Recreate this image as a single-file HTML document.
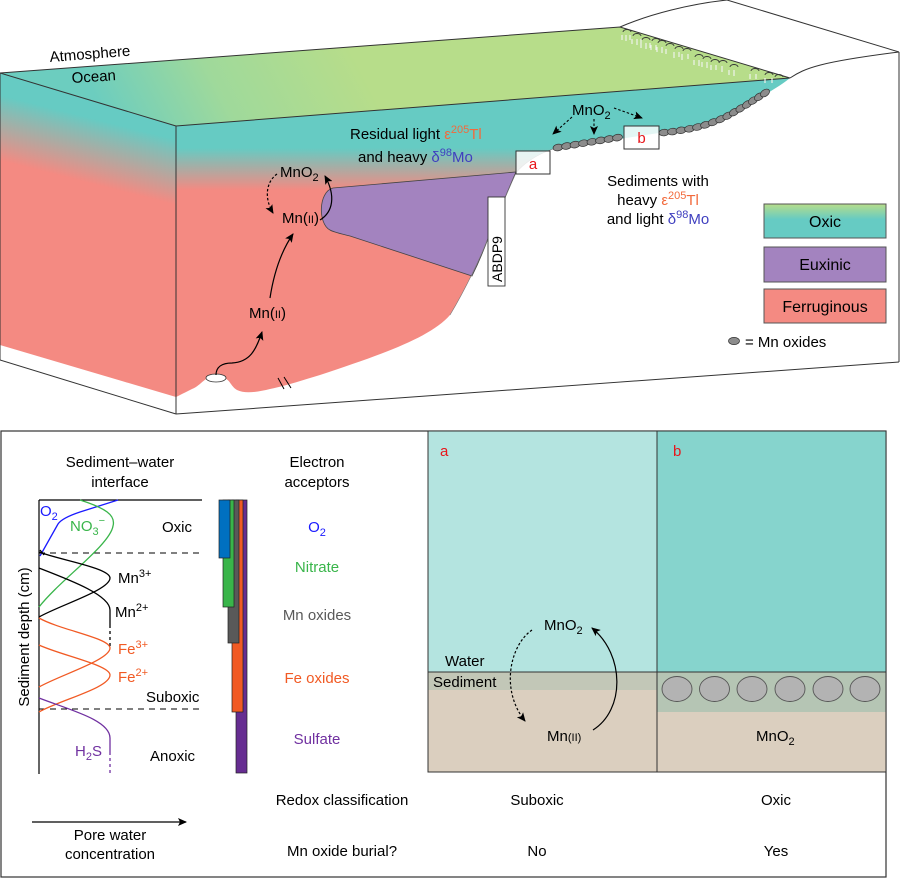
<!DOCTYPE html>
<html><head><meta charset="utf-8"><style>
html,body{margin:0;padding:0;background:#fff;}
svg{display:block;font-family:"Liberation Sans",Arial,sans-serif;}
</style></head><body>
<svg width="900" height="878" viewBox="0 0 900 878" xmlns="http://www.w3.org/2000/svg">
<defs>
<linearGradient id="gTop" gradientUnits="userSpaceOnUse" x1="110" y1="125" x2="330" y2="10">
<stop offset="0" stop-color="#6ccdbf"/><stop offset="0.45" stop-color="#9fd99b"/><stop offset="1" stop-color="#b7dd8a"/></linearGradient>
<linearGradient id="gLeft" gradientUnits="userSpaceOnUse" x1="20" y1="90" x2="0" y2="169">
<stop offset="0" stop-color="#66cbc3"/><stop offset="0.12" stop-color="#66cbc3"/><stop offset="0.9" stop-color="#f48a82"/><stop offset="1" stop-color="#f48a82"/></linearGradient>
<linearGradient id="gFront" gradientUnits="userSpaceOnUse" x1="0" y1="148" x2="0" y2="190">
<stop offset="0" stop-color="#66cbc3"/><stop offset="1" stop-color="#f48a82"/></linearGradient>
<linearGradient id="gLeg" x1="0" y1="0" x2="0" y2="1">
<stop offset="0" stop-color="#b7dd8a"/><stop offset="0.45" stop-color="#66cbc3"/><stop offset="1" stop-color="#66cbc3"/></linearGradient>
<marker id="ah" markerUnits="userSpaceOnUse" markerWidth="10" markerHeight="8" refX="8" refY="4" orient="auto">
<path d="M0,0 L9,4 L0,8 L2,4 z" fill="#000"/></marker>
</defs>

<!-- ===== TOP BLOCK ===== -->
<!-- top face -->
<polygon points="0,73 620,27 790,78 176,126" fill="url(#gTop)"/>
<!-- left face -->
<polygon points="0,73 176,126 176,397 0,345" fill="url(#gLeft)"/>
<!-- front face -->
<path d="M176,126 L790,78 C780,86 772,90 765,95 C750,106 735,116 715,122 C695,128 675,131 659,133 L553,149 C535,155 522,165 516,173 C508,190 498,215 490,233 C482,255 465,290 450,315 C430,338 380,355 320,375 C300,381 285,386 270,389 C258,392 245,394 237,390 C230,386 230,378 222,378 L210,378 C204,378 200,386 192,389 C186,392 180,395 176,397 Z" fill="url(#gFront)"/>
<!-- euxinic -->
<path d="M333,188 L516,172 C508,190 498,215 490,233 C484,250 478,264 472,276 L350,236 C338,233 333,232 330,230 C318,224 318,192 333,188 Z" fill="#a383bf" stroke="#444" stroke-width="0.8"/>
<path d="M553,149 C535,155 522,165 516,173 C508,190 498,215 490,233 C482,255 465,290 450,315" fill="none" stroke="#777" stroke-width="0.6"/>

<!-- outlines -->
<g fill="none" stroke="#333" stroke-width="1">
<polyline points="176,126 0,73 620,27 790,78 176,126"/>
<line x1="0" y1="73" x2="0" y2="360"/>
<line x1="176" y1="126" x2="176" y2="414"/>
<line x1="0" y1="360" x2="176" y2="414"/>
<line x1="176" y1="414" x2="899" y2="362"/>
<line x1="899" y1="52" x2="899" y2="362"/>
<path d="M620,27 C650,14 690,4 727,0"/>
<line x1="727" y1="0" x2="899" y2="52"/>
<path d="M790,78 C805,68 820,62 899,52"/>
</g>

<!-- trees on shore -->
<g stroke-width="0.9">
<g fill="none" stroke="#333">
<path d="M623,32 a4,2.5 0 0 1 8,0"/><path d="M633,36 a4,2.5 0 0 1 8,0"/><path d="M642,40 a4,2.5 0 0 1 8,0"/><path d="M652,41 a4,2.5 0 0 1 8,0"/><path d="M658,43 a4,2.5 0 0 1 8,0"/><path d="M666,46 a4,2.5 0 0 1 8,0"/><path d="M675,49 a4,2.5 0 0 1 8,0"/><path d="M683,51 a4,2.5 0 0 1 8,0"/><path d="M695,57 a4,2.5 0 0 1 8,0"/><path d="M703,59 a4,2.5 0 0 1 8,0"/><path d="M711,62 a4,2.5 0 0 1 8,0"/><path d="M719,63 a4,2.5 0 0 1 8,0"/><path d="M730,67 a4,2.5 0 0 1 8,0"/><path d="M751,71 a4,2.5 0 0 1 8,0"/><path d="M765,75 a4,2.5 0 0 1 8,0"/><path d="M775,77 a4,2.5 0 0 1 8,0"/>
</g>
<g fill="none" stroke="#eef2ea" stroke-width="1.2">
<path d="M622,35 v5 M626,35 v6 M630,35 v5 M632,39 v5 M637,39 v6 M641,39 v5 M641,43 v5 M646,43 v6 M650,43 v5 M651,45 v5 M656,45 v5 M657,47 v5 M662,47 v6 M666,49 v5 M674,52 v6 M679,52 v5 M682,54 v6 M688,54 v5 M694,60 v5 M699,60 v6 M702,62 v5 M707,62 v6 M711,65 v5 M716,65 v5 M722,66 v6 M729,70 v5 M734,70 v6 M750,74 v5 M756,74 v5 M765,78 v5 M772,78 v5"/>
</g>
</g>

<!-- Mn oxide beads along seafloor -->
<g fill="#8c8c8c" stroke="#333" stroke-width="0.7">
<ellipse cx="558" cy="147.5" rx="5" ry="3.3" transform="rotate(-10 558 147.5)"/>
<ellipse cx="566.5" cy="146" rx="5" ry="3.3" transform="rotate(-10 566.5 146)"/>
<ellipse cx="575" cy="144.6" rx="5" ry="3.3" transform="rotate(-10 575 144.6)"/>
<ellipse cx="583.5" cy="143.2" rx="5" ry="3.3" transform="rotate(-10 583.5 143.2)"/>
<ellipse cx="592" cy="141.8" rx="5" ry="3.3" transform="rotate(-10 592 141.8)"/>
<ellipse cx="600.5" cy="140.4" rx="5" ry="3.3" transform="rotate(-10 600.5 140.4)"/>
<ellipse cx="609" cy="139" rx="5" ry="3.3" transform="rotate(-10 609 139)"/>
<ellipse cx="617.5" cy="137.6" rx="5" ry="3.3" transform="rotate(-10 617.5 137.6)"/>
<ellipse cx="664" cy="132.6" rx="5" ry="3.3" transform="rotate(-5 664 132.6)"/>
<ellipse cx="672.5" cy="131.6" rx="5" ry="3.3" transform="rotate(-6 672.5 131.6)"/>
<ellipse cx="681" cy="130.3" rx="5" ry="3.3" transform="rotate(-8 681 130.3)"/>
<ellipse cx="689.5" cy="128.8" rx="5" ry="3.3" transform="rotate(-10 689.5 128.8)"/>
<ellipse cx="697.5" cy="127" rx="5" ry="3.3" transform="rotate(-13 697.5 127)"/>
<ellipse cx="705.5" cy="124.8" rx="5" ry="3.3" transform="rotate(-16 705.5 124.8)"/>
<ellipse cx="713" cy="122.2" rx="5" ry="3.3" transform="rotate(-20 713 122.2)"/>
<ellipse cx="720.5" cy="119.2" rx="5" ry="3.3" transform="rotate(-24 720.5 119.2)"/>
<ellipse cx="727.5" cy="115.8" rx="5" ry="3.3" transform="rotate(-28 727.5 115.8)"/>
<ellipse cx="734" cy="112.2" rx="5" ry="3.3" transform="rotate(-30 734 112.2)"/>
<ellipse cx="740.5" cy="108.4" rx="5" ry="3.3" transform="rotate(-32 740.5 108.4)"/>
<ellipse cx="747" cy="104.5" rx="5" ry="3.3" transform="rotate(-33 747 104.5)"/>
<ellipse cx="753" cy="100.6" rx="5" ry="3.3" transform="rotate(-34 753 100.6)"/>
<ellipse cx="759" cy="96.8" rx="5" ry="3.3" transform="rotate(-35 759 96.8)"/>
<ellipse cx="765" cy="93" rx="5" ry="3.3" transform="rotate(-35 765 93)"/>
</g>

<!-- boxes a, b -->
<rect x="516" y="151" width="34" height="23" fill="#fff" fill-opacity="0.82" stroke="#333" stroke-width="1"/>
<text x="533" y="169" font-size="15" fill="#e8161b" text-anchor="middle">a</text>
<rect x="624" y="126" width="35" height="23" fill="#fff" fill-opacity="0.82" stroke="#333" stroke-width="1"/>
<text x="641.5" y="143" font-size="15" fill="#e8161b" text-anchor="middle">b</text>

<!-- ABDP9 -->
<rect x="488" y="197" width="17" height="89" fill="#fff" stroke="#333" stroke-width="0.9"/>
<text transform="translate(502,259) rotate(-90)" font-size="14" text-anchor="middle" fill="#000">ABDP9</text>

<!-- vent & break -->
<ellipse cx="216" cy="378" rx="10" ry="4" fill="#fff" stroke="#333" stroke-width="0.8"/>
<line x1="278" y1="378" x2="284" y2="389" stroke="#000" stroke-width="1"/>
<line x1="284" y1="377" x2="291" y2="388" stroke="#000" stroke-width="1"/>

<!-- arrows top-left -->
<g fill="none" stroke="#000" stroke-width="1.2">
<path d="M277,174 C266,182 264,198 273,213" stroke-dasharray="2.5,2" marker-end="url(#ah)"/>
<path d="M320,220 C333,212 336,196 325,176" marker-end="url(#ah)"/>
<path d="M270,298 C274,272 282,250 293,234" marker-end="url(#ah)"/>
<path d="M216,375 C216,367 222,363 232,363 C250,362 256,350 262,332" marker-end="url(#ah)"/>
</g>
<!-- arrows top-right -->
<g fill="none" stroke="#000" stroke-width="1.1" stroke-dasharray="2.5,2">
<path d="M572,117 L553,134" marker-end="url(#ah)"/>
<path d="M594,119 L594,134" marker-end="url(#ah)"/>
<path d="M614,108 L642,118" marker-end="url(#ah)"/>
</g>

<!-- top texts -->
<g font-size="15" fill="#000">
<text transform="translate(50,62) rotate(-4.5)">Atmosphere</text>
<text transform="translate(72,83) rotate(-3.7)">Ocean</text>
<text x="350" y="139">Residual light <tspan fill="#f26a3c">ε<tspan dy="-6" font-size="11">205</tspan><tspan dy="6">Tl</tspan></tspan></text>
<text x="358" y="162">and heavy <tspan fill="#3f3fbf">δ<tspan dy="-6" font-size="11">98</tspan><tspan dy="6">Mo</tspan></tspan></text>
<text x="280" y="177">MnO<tspan dy="4" font-size="11">2</tspan></text>
<text x="282" y="223">Mn(<tspan font-size="11">II</tspan>)</text>
<text x="249" y="318">Mn(<tspan font-size="11">II</tspan>)</text>
<text x="572" y="115">MnO<tspan dy="4" font-size="11">2</tspan></text>
<text x="658" y="186" text-anchor="middle">Sediments with</text>
<text x="658" y="205" text-anchor="middle">heavy <tspan fill="#f26a3c">ε<tspan dy="-6" font-size="11">205</tspan><tspan dy="6">Tl</tspan></tspan></text>
<text x="658" y="224" text-anchor="middle">and light <tspan fill="#3f3fbf">δ<tspan dy="-6" font-size="11">98</tspan><tspan dy="6">Mo</tspan></tspan></text>
</g>

<!-- legend -->
<rect x="764" y="204" width="122" height="34" fill="url(#gLeg)" stroke="#555" stroke-width="1"/>
<rect x="764" y="247" width="122" height="35" fill="#a383bf" stroke="#555" stroke-width="1"/>
<rect x="764" y="289" width="122" height="34" fill="#f48a82" stroke="#555" stroke-width="1"/>
<g font-size="16" fill="#000" text-anchor="middle">
<text x="825" y="227">Oxic</text>
<text x="825" y="270">Euxinic</text>
<text x="825" y="312">Ferruginous</text>
</g>
<ellipse cx="734" cy="341" rx="5.5" ry="3.6" fill="#8c8c8c" stroke="#333" stroke-width="0.7"/>
<text x="745" y="347" font-size="15" fill="#000">= Mn oxides</text>

<!-- ===== BOTTOM PANEL ===== -->
<rect x="1" y="431" width="885" height="446" fill="#fff" stroke="#333" stroke-width="1.2"/>

<!-- panel a -->
<rect x="428" y="431" width="229" height="241" fill="#b4e4e0"/>
<rect x="428" y="672" width="229" height="18" fill="#c2c7b7"/>
<rect x="428" y="690" width="229" height="82" fill="#dbcfbf"/>
<!-- panel b -->
<rect x="657" y="431" width="229" height="241" fill="#86d4cd"/>
<rect x="657" y="672" width="229" height="40" fill="#b5c5b4"/>
<rect x="657" y="712" width="229" height="60" fill="#dbcfbf"/>
<g fill="#b3b3b3" stroke="#555" stroke-width="0.9">
<ellipse cx="677" cy="689" rx="15" ry="12.5"/>
<ellipse cx="714.5" cy="689" rx="15" ry="12.5"/>
<ellipse cx="752" cy="689" rx="15" ry="12.5"/>
<ellipse cx="790" cy="689" rx="15" ry="12.5"/>
<ellipse cx="828" cy="689" rx="15" ry="12.5"/>
<ellipse cx="865" cy="689" rx="15" ry="12.5"/>
</g>
<g fill="none" stroke="#333" stroke-width="1">
<rect x="428" y="431" width="458" height="341"/>
<line x1="657" y1="431" x2="657" y2="772"/>
<line x1="428" y1="672" x2="886" y2="672"/>
</g>
<g fill="none" stroke="#000" stroke-width="1.2">
<path d="M532,630 C510,645 500,690 525,721" stroke-dasharray="2.5,2" marker-end="url(#ah)"/>
<path d="M593,730 C625,710 625,655 592,628" marker-end="url(#ah)"/>
</g>
<g font-size="15">
<text x="440" y="456" fill="#e8161b">a</text>
<text x="673" y="456" fill="#e8161b">b</text>
<text x="544" y="630" fill="#000">MnO<tspan dy="4" font-size="11">2</tspan></text>
<text x="445" y="666" fill="#000">Water</text>
<text x="433" y="687" fill="#000">Sediment</text>
<text x="547" y="741" fill="#000">Mn<tspan font-size="11">(II)</tspan></text>
<text x="756" y="741" fill="#000">MnO<tspan dy="4" font-size="11">2</tspan></text>
</g>

<!-- profile -->
<g fill="none" stroke="#000" stroke-width="1.2">
<line x1="39" y1="500" x2="202" y2="500"/>
<line x1="39" y1="500" x2="39" y2="774"/>
</g>
<g stroke="#000" stroke-width="1" stroke-dasharray="6,5">
<line x1="39" y1="553" x2="204" y2="553"/>
<line x1="39" y1="709" x2="204" y2="709"/>
</g>
<g fill="none" stroke-width="1.3">
<path d="M118,500 L80,512 Q62,518 58,524 L40,556" stroke="#1a1aff"/>
<path d="M80,500 C105,508 116,515 113,526 C110,545 60,580 39,607" stroke="#39b54a"/>
<path d="M40,550 L44,555 M39,552 C60,560 110,568 110,578 C110,590 60,605 39,617" stroke="#000"/>
<path d="M39,568 C70,580 110,595 110,610 L110,628" stroke="#000"/>
<path d="M110,631 L110,646" stroke="#000" stroke-dasharray="3,3"/>
<path d="M39,618 C60,630 110,638 110,648 C110,660 60,675 39,687" stroke="#f15a24"/>
<path d="M39,645 C60,655 110,665 110,675 C110,688 60,700 39,712" stroke="#f15a24"/>
<path d="M39,698 C70,710 110,720 110,738 L110,755" stroke="#7030a0"/>
<path d="M110,758 L110,773" stroke="#7030a0" stroke-dasharray="3,3"/>
</g>
<g font-size="15">
<text x="40" y="516" fill="#1a1aff">O<tspan dy="4" font-size="11">2</tspan></text>
<text x="70" y="531" fill="#39b54a">NO<tspan dy="4" font-size="11">3</tspan><tspan dy="-11" font-size="11">−</tspan></text>
<text x="162" y="532" fill="#000">Oxic</text>
<text x="118" y="583" fill="#000">Mn<tspan dy="-6" font-size="11">3+</tspan></text>
<text x="115" y="617" fill="#000">Mn<tspan dy="-6" font-size="11">2+</tspan></text>
<text x="118" y="654" fill="#f15a24">Fe<tspan dy="-6" font-size="11">3+</tspan></text>
<text x="118" y="682" fill="#f15a24">Fe<tspan dy="-6" font-size="11">2+</tspan></text>
<text x="146" y="702" fill="#000">Suboxic</text>
<text x="75" y="756" fill="#7030a0">H<tspan dy="4" font-size="11">2</tspan><tspan dy="-4">S</tspan></text>
<text x="150" y="761" fill="#000">Anoxic</text>
<text transform="translate(29,637) rotate(-90)" text-anchor="middle" fill="#000">Sediment depth (cm)</text>
</g>

<!-- electron acceptor bars -->
<g stroke="#222" stroke-width="0.7">
<rect x="236" y="500" width="11" height="273" fill="#662d91"/>
<rect x="232" y="500" width="11" height="212" fill="#f15a24"/>
<rect x="228" y="500" width="11" height="143" fill="#595959"/>
<rect x="223" y="500" width="11" height="107" fill="#39b54a"/>
<rect x="219" y="500" width="11" height="58" fill="#0070c0"/>
</g>
<g font-size="15" text-anchor="middle">
<text x="120" y="467" fill="#000">Sediment–water</text>
<text x="120" y="487" fill="#000">interface</text>
<text x="317" y="467" fill="#000">Electron</text>
<text x="317" y="487" fill="#000">acceptors</text>
<text x="317" y="532" fill="#1a1aff">O<tspan dy="4" font-size="11">2</tspan></text>
<text x="317" y="572" fill="#39b54a">Nitrate</text>
<text x="317" y="620" fill="#595959">Mn oxides</text>
<text x="317" y="683" fill="#f15a24">Fe oxides</text>
<text x="317" y="744" fill="#7030a0">Sulfate</text>
<text x="342" y="805" fill="#000">Redox classification</text>
<text x="342" y="856" fill="#000">Mn oxide burial?</text>
<text x="537" y="805" fill="#000">Suboxic</text>
<text x="776" y="805" fill="#000">Oxic</text>
<text x="537" y="856" fill="#000">No</text>
<text x="776" y="856" fill="#000">Yes</text>
<text x="110" y="840" fill="#000">Pore water</text>
<text x="110" y="859" fill="#000">concentration</text>
</g>
<line x1="32" y1="822" x2="186" y2="822" stroke="#000" stroke-width="1.2" marker-end="url(#ah)"/>
</svg>
</body></html>
